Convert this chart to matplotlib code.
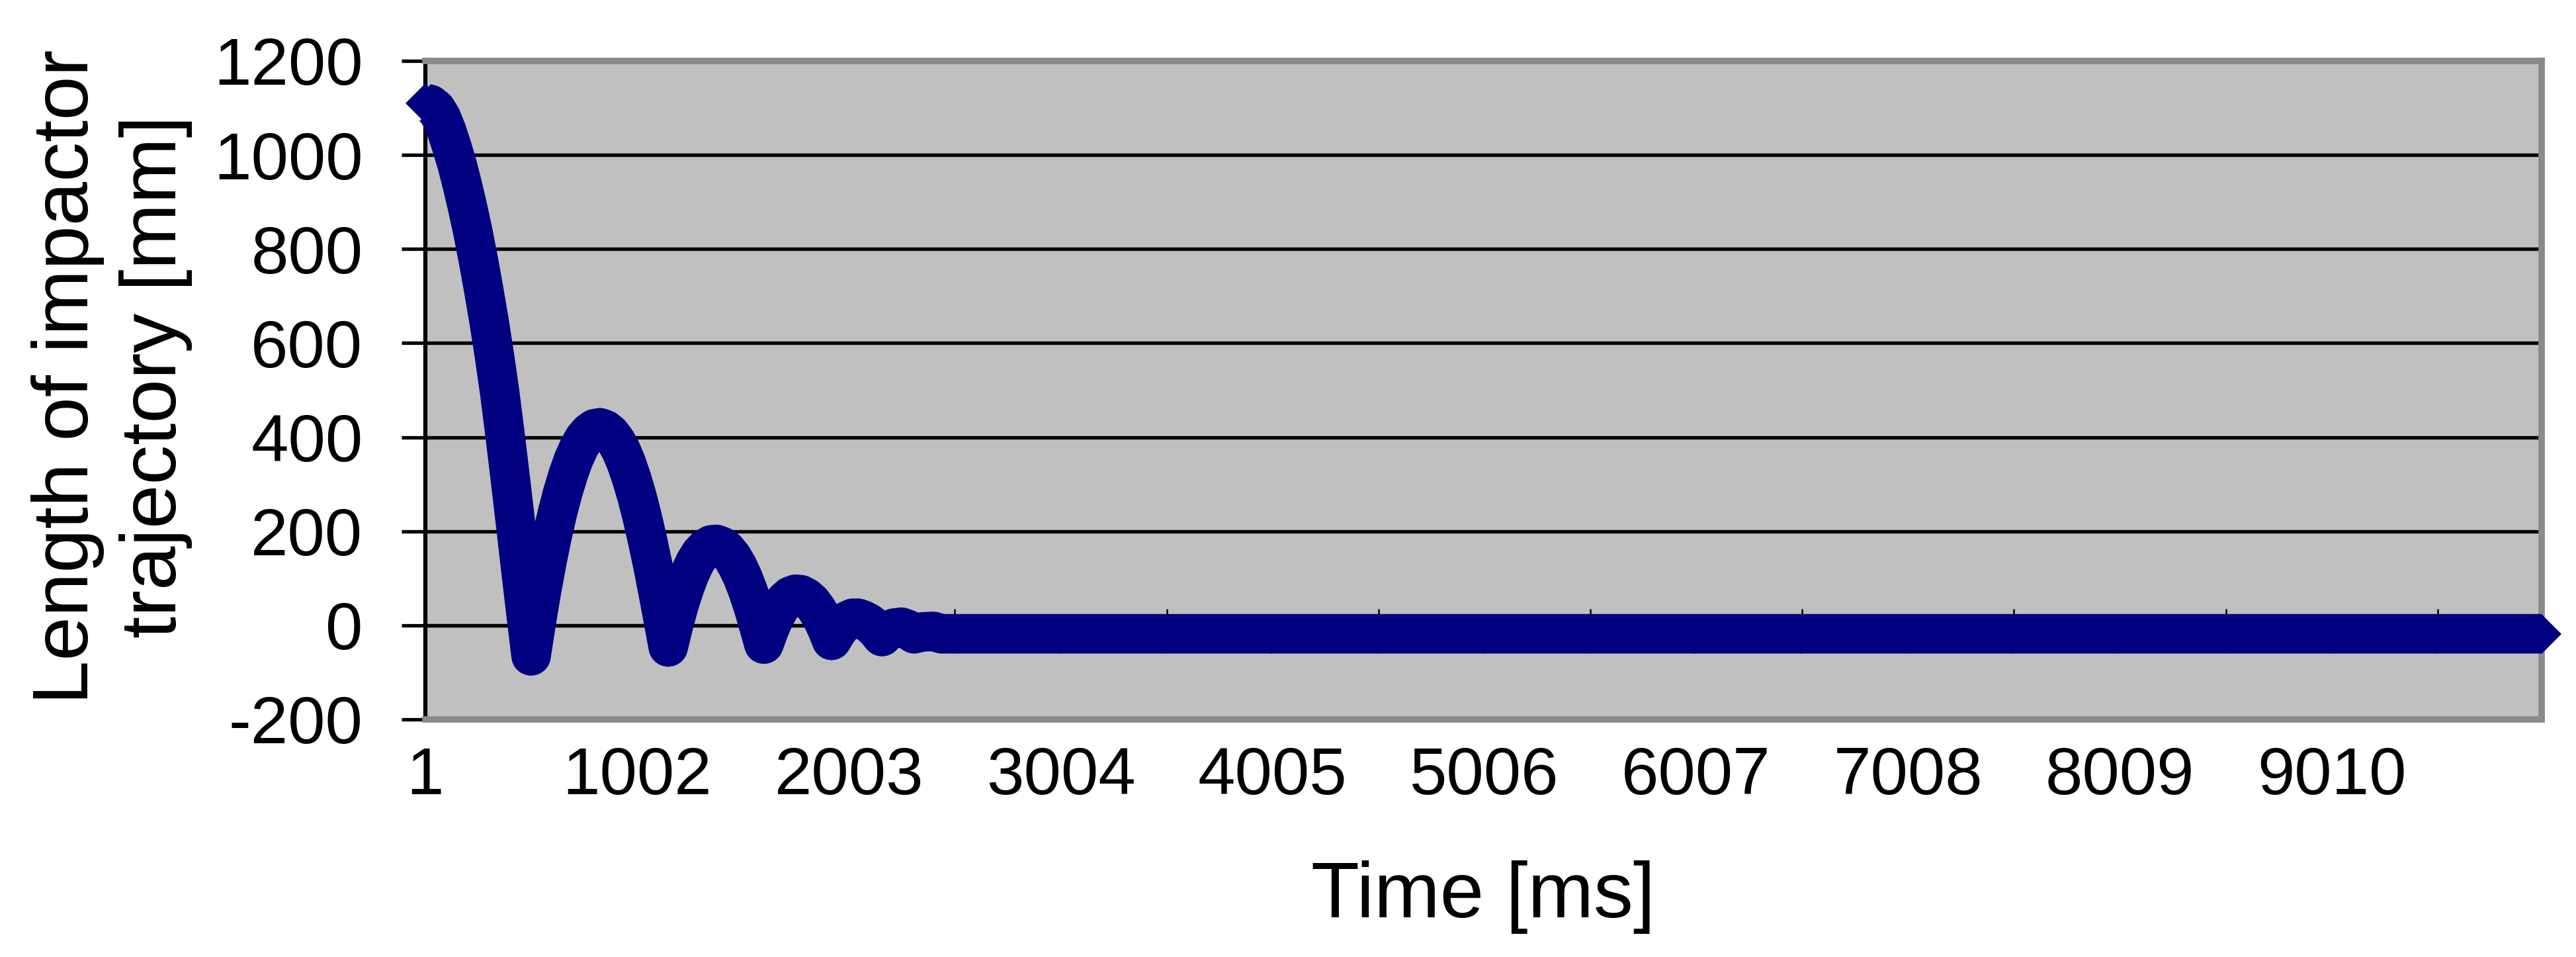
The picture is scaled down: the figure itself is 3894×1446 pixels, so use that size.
import matplotlib
matplotlib.use('Agg')
import matplotlib.pyplot as plt

# impactor trajectory (time in ms, length in mm)
time_ms = [0, 25, 50, 75, 100, 125, 150, 175, 200, 225, 250, 275, 300, 325, 350,
           375, 400, 425, 450, 475, 500,
           525, 550, 575, 600, 625, 650, 675, 700, 725, 750, 775, 800, 825, 850,
           875, 900, 925, 950, 975, 1000, 1025, 1050, 1075, 1100, 1125, 1148,
           1175, 1200, 1225, 1250, 1275, 1300, 1325, 1350, 1375, 1400, 1425, 1450,
           1475, 1500, 1525, 1550, 1575, 1600,
           1625, 1650, 1675, 1700, 1725, 1750, 1775, 1800, 1825, 1850, 1875, 1900, 1920,
           1945, 1970, 1995, 2020, 2045, 2070, 2095, 2120, 2140, 2158,
           2185, 2215, 2250, 2280, 2310, 2350, 2400, 2440, 2500,
           3000, 3500, 4000, 4500, 5000, 5500, 6000, 6500, 7000, 7500, 8000,
           8500, 9000, 9500, 10000]
length_mm = [1110, 1107, 1098, 1080, 1052, 1018, 980, 936, 888, 836, 778, 716, 650, 578, 500,
             412, 318, 222, 124, 28, -65,
             8, 75, 136, 191, 240, 283, 320, 352, 377, 397, 410, 418, 420, 416,
             407, 392, 372, 345, 312, 274, 230, 181, 128, 70, 10, -46,
             4, 45, 80, 110, 134, 152, 164, 171, 172, 168, 159, 145,
             126, 102, 73, 39, 0, -40,
             -9, 17, 37, 52, 62, 66, 65, 59, 49, 34, 15, -9, -32,
             -13, 1, 10, 15, 15, 11, 5, -4, -14, -24,
             -12, -6, -4, -9, -18, -14, -13, -18, -18,
             -18, -18, -18, -18, -18, -18, -18, -18, -18, -18, -18,
             -18, -18, -18, -18]

x_labels = [1, 1002, 2003, 3004, 4005, 5006, 6007, 7008, 8009, 9010]
y_ticks = [-200, 0, 200, 400, 600, 800, 1000, 1200]

plt.rcParams['font.family'] = ['Liberation Sans', 'DejaVu Sans']
plt.rcParams['axes.unicode_minus'] = False

fig = plt.figure(figsize=(38.94, 14.46), dpi=100)
ax = fig.add_axes([0.1651, 0.2483, 0.8215, 0.6881])
ax.set_facecolor('#c0c0c0')

# excel category axis: point n sits at category n + 1
category = [t + 1 for t in time_ms]
ax.plot(category, length_mm, color='#000080', lw=43, marker='D', ms=30.5, mew=0,
        solid_joinstyle='round', solid_capstyle='butt', clip_on=False, zorder=3)

ax.set_xlim(1, 10001)
ax.set_ylim(-200, 1200)
ax.set_yticks(y_ticks)
ax.set_yticklabels([str(v) for v in y_ticks])
ax.set_xticks(x_labels)
ax.set_xticklabels([str(v) for v in x_labels])
ax.tick_params(axis='y', direction='out', length=26, width=3.8, pad=42, labelsize=73)
ax.tick_params(axis='x', length=0, pad=29, labelsize=73)

ax.set_axisbelow(True)
ax.yaxis.grid(True, color='black', lw=3.8)
for side in ['top', 'right', 'bottom']:
    ax.spines[side].set_color('#8a8a8a')
    ax.spines[side].set_linewidth(7)
ax.spines['left'].set_linewidth(4.5)

# horizontal axis line crosses at zero, tick marks between the labels
ymin, ymax = ax.get_ylim()
sec = ax.secondary_xaxis((0 - ymin) / (ymax - ymin))
mid_ticks = [(a + b) / 2 for a, b in zip(x_labels, x_labels[1:])]
mid_ticks.append(x_labels[-1] + (x_labels[1] - x_labels[0]) / 2)
sec.set_xticks(mid_ticks)
sec.tick_params(axis='x', direction='in', length=18, width=1.8, labelbottom=False)
sec.spines['bottom'].set_linewidth(3.8)
sec.set_zorder(1)

ax.set_ylabel('Length of impactor\ntrajectory [mm]', fontsize=86, linespacing=1.26)
ax.yaxis.set_label_coords(-0.110, 0.52)
ax.set_xlabel('Time [ms]', fontsize=86)
ax.xaxis.set_label_coords(0.5, -0.214)

fig.savefig('out.png', dpi=100)
